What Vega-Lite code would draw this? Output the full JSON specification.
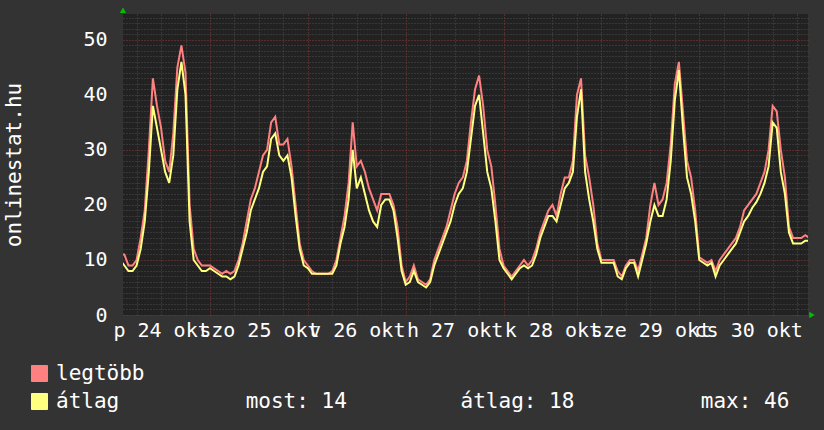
{
  "$schema": "https://vega.github.io/schema/vega-lite/v6.json",
  "width": 685,
  "height": 301,
  "autosize": "none",
  "padding": {"left": 123, "top": 14, "right": 16, "bottom": 115},
  "config": {
    "background": "#333333",
    "view": {"fill": "#222222", "stroke": null},
    "font": "DejaVu Sans Mono"
  },
  "resolve": {"axis": {"x": "independent", "y": "independent"}},
  "layer": [
    {
      "data": {"values": [
        {"t":"2014-10-24T02:00:00Z","legtöbb":11,"átlag":10},
        {"t":"2014-10-24T03:00:00Z","legtöbb":11,"átlag":9},
        {"t":"2014-10-24T04:00:00Z","legtöbb":9,"átlag":8},
        {"t":"2014-10-24T05:00:00Z","legtöbb":9,"átlag":8},
        {"t":"2014-10-24T06:00:00Z","legtöbb":10,"átlag":9},
        {"t":"2014-10-24T07:00:00Z","legtöbb":14,"átlag":12},
        {"t":"2014-10-24T08:00:00Z","legtöbb":19,"átlag":17},
        {"t":"2014-10-24T09:00:00Z","legtöbb":30,"átlag":26},
        {"t":"2014-10-24T10:00:00Z","legtöbb":43,"átlag":38},
        {"t":"2014-10-24T11:00:00Z","legtöbb":38,"átlag":34},
        {"t":"2014-10-24T12:00:00Z","legtöbb":34,"átlag":30},
        {"t":"2014-10-24T13:00:00Z","legtöbb":28,"átlag":26},
        {"t":"2014-10-24T14:00:00Z","legtöbb":26,"átlag":24},
        {"t":"2014-10-24T15:00:00Z","legtöbb":33,"átlag":29},
        {"t":"2014-10-24T16:00:00Z","legtöbb":45,"átlag":41},
        {"t":"2014-10-24T17:00:00Z","legtöbb":49,"átlag":46},
        {"t":"2014-10-24T18:00:00Z","legtöbb":44,"átlag":40},
        {"t":"2014-10-24T19:00:00Z","legtöbb":20,"átlag":17},
        {"t":"2014-10-24T20:00:00Z","legtöbb":12,"átlag":10},
        {"t":"2014-10-24T21:00:00Z","legtöbb":10,"átlag":9},
        {"t":"2014-10-24T22:00:00Z","legtöbb":9,"átlag":8},
        {"t":"2014-10-24T23:00:00Z","legtöbb":9,"átlag":8},
        {"t":"2014-10-25T00:00:00Z","legtöbb":9,"átlag":8.5},
        {"t":"2014-10-25T01:00:00Z","legtöbb":8.5,"átlag":8},
        {"t":"2014-10-25T02:00:00Z","legtöbb":8,"átlag":7.5},
        {"t":"2014-10-25T03:00:00Z","legtöbb":7.5,"átlag":7},
        {"t":"2014-10-25T04:00:00Z","legtöbb":8,"átlag":7},
        {"t":"2014-10-25T05:00:00Z","legtöbb":7.5,"átlag":6.5},
        {"t":"2014-10-25T06:00:00Z","legtöbb":8,"átlag":7},
        {"t":"2014-10-25T07:00:00Z","legtöbb":10,"átlag":9},
        {"t":"2014-10-25T08:00:00Z","legtöbb":13,"átlag":12},
        {"t":"2014-10-25T09:00:00Z","legtöbb":17,"átlag":15},
        {"t":"2014-10-25T10:00:00Z","legtöbb":21,"átlag":19},
        {"t":"2014-10-25T11:00:00Z","legtöbb":23,"átlag":21},
        {"t":"2014-10-25T12:00:00Z","legtöbb":26,"átlag":23},
        {"t":"2014-10-25T13:00:00Z","legtöbb":29,"átlag":26},
        {"t":"2014-10-25T14:00:00Z","legtöbb":30,"átlag":27},
        {"t":"2014-10-25T15:00:00Z","legtöbb":35,"átlag":32},
        {"t":"2014-10-25T16:00:00Z","legtöbb":36,"átlag":33},
        {"t":"2014-10-25T17:00:00Z","legtöbb":31,"átlag":29},
        {"t":"2014-10-25T18:00:00Z","legtöbb":31,"átlag":28},
        {"t":"2014-10-25T19:00:00Z","legtöbb":32,"átlag":29},
        {"t":"2014-10-25T20:00:00Z","legtöbb":27,"átlag":25},
        {"t":"2014-10-25T21:00:00Z","legtöbb":20,"átlag":18},
        {"t":"2014-10-25T22:00:00Z","legtöbb":13,"átlag":12},
        {"t":"2014-10-25T23:00:00Z","legtöbb":10,"átlag":9},
        {"t":"2014-10-26T00:00:00Z","legtöbb":9,"átlag":8.5},
        {"t":"2014-10-26T01:00:00Z","legtöbb":8,"átlag":7.5},
        {"t":"2014-10-26T02:00:00Z","legtöbb":7.5,"átlag":7.5},
        {"t":"2014-10-26T03:00:00Z","legtöbb":7.5,"átlag":7.5},
        {"t":"2014-10-26T04:00:00Z","legtöbb":7.5,"átlag":7.5},
        {"t":"2014-10-26T05:00:00Z","legtöbb":7.5,"átlag":7.5},
        {"t":"2014-10-26T06:00:00Z","legtöbb":8,"átlag":7.5},
        {"t":"2014-10-26T07:00:00Z","legtöbb":10,"átlag":9},
        {"t":"2014-10-26T08:00:00Z","legtöbb":14,"átlag":13},
        {"t":"2014-10-26T09:00:00Z","legtöbb":18,"átlag":16},
        {"t":"2014-10-26T10:00:00Z","legtöbb":24,"átlag":21},
        {"t":"2014-10-26T11:00:00Z","legtöbb":35,"átlag":30},
        {"t":"2014-10-26T12:00:00Z","legtöbb":27,"átlag":23},
        {"t":"2014-10-26T13:00:00Z","legtöbb":28,"átlag":25},
        {"t":"2014-10-26T14:00:00Z","legtöbb":26,"átlag":22},
        {"t":"2014-10-26T15:00:00Z","legtöbb":23,"átlag":19},
        {"t":"2014-10-26T16:00:00Z","legtöbb":21,"átlag":17},
        {"t":"2014-10-26T17:00:00Z","legtöbb":19,"átlag":16},
        {"t":"2014-10-26T18:00:00Z","legtöbb":22,"átlag":20},
        {"t":"2014-10-26T19:00:00Z","legtöbb":22,"átlag":21},
        {"t":"2014-10-26T20:00:00Z","legtöbb":22,"átlag":21},
        {"t":"2014-10-26T21:00:00Z","legtöbb":20,"átlag":19},
        {"t":"2014-10-26T22:00:00Z","legtöbb":16,"átlag":14},
        {"t":"2014-10-26T23:00:00Z","legtöbb":9,"átlag":8},
        {"t":"2014-10-27T00:00:00Z","legtöbb":6,"átlag":5.5},
        {"t":"2014-10-27T01:00:00Z","legtöbb":7,"átlag":6},
        {"t":"2014-10-27T02:00:00Z","legtöbb":9,"átlag":8},
        {"t":"2014-10-27T03:00:00Z","legtöbb":6.5,"átlag":6},
        {"t":"2014-10-27T04:00:00Z","legtöbb":6,"átlag":5.5},
        {"t":"2014-10-27T05:00:00Z","legtöbb":5.5,"átlag":5},
        {"t":"2014-10-27T06:00:00Z","legtöbb":6.5,"átlag":6},
        {"t":"2014-10-27T07:00:00Z","legtöbb":10,"átlag":9},
        {"t":"2014-10-27T08:00:00Z","legtöbb":12,"átlag":11},
        {"t":"2014-10-27T09:00:00Z","legtöbb":14,"átlag":13},
        {"t":"2014-10-27T10:00:00Z","legtöbb":16,"átlag":15},
        {"t":"2014-10-27T11:00:00Z","legtöbb":19,"átlag":17},
        {"t":"2014-10-27T12:00:00Z","legtöbb":22,"átlag":20},
        {"t":"2014-10-27T13:00:00Z","legtöbb":24,"átlag":22},
        {"t":"2014-10-27T14:00:00Z","legtöbb":25,"átlag":23},
        {"t":"2014-10-27T15:00:00Z","legtöbb":28,"átlag":26},
        {"t":"2014-10-27T16:00:00Z","legtöbb":35,"átlag":32},
        {"t":"2014-10-27T17:00:00Z","legtöbb":41,"átlag":38},
        {"t":"2014-10-27T18:00:00Z","legtöbb":43.5,"átlag":40},
        {"t":"2014-10-27T19:00:00Z","legtöbb":38,"átlag":33},
        {"t":"2014-10-27T20:00:00Z","legtöbb":30,"átlag":26},
        {"t":"2014-10-27T21:00:00Z","legtöbb":27,"átlag":23},
        {"t":"2014-10-27T22:00:00Z","legtöbb":20,"átlag":17},
        {"t":"2014-10-27T23:00:00Z","legtöbb":12,"átlag":10},
        {"t":"2014-10-28T00:00:00Z","legtöbb":9,"átlag":8.5},
        {"t":"2014-10-28T01:00:00Z","legtöbb":8,"átlag":7.5},
        {"t":"2014-10-28T02:00:00Z","legtöbb":7,"átlag":6.5},
        {"t":"2014-10-28T03:00:00Z","legtöbb":8,"átlag":7.5},
        {"t":"2014-10-28T04:00:00Z","legtöbb":9,"átlag":8.5},
        {"t":"2014-10-28T05:00:00Z","legtöbb":10,"átlag":9},
        {"t":"2014-10-28T06:00:00Z","legtöbb":9,"átlag":8.5},
        {"t":"2014-10-28T07:00:00Z","legtöbb":10,"átlag":9},
        {"t":"2014-10-28T08:00:00Z","legtöbb":12,"átlag":11},
        {"t":"2014-10-28T09:00:00Z","legtöbb":15,"átlag":14},
        {"t":"2014-10-28T10:00:00Z","legtöbb":17,"átlag":16},
        {"t":"2014-10-28T11:00:00Z","legtöbb":19,"átlag":18},
        {"t":"2014-10-28T12:00:00Z","legtöbb":20,"átlag":18},
        {"t":"2014-10-28T13:00:00Z","legtöbb":18,"átlag":17},
        {"t":"2014-10-28T14:00:00Z","legtöbb":22,"átlag":20},
        {"t":"2014-10-28T15:00:00Z","legtöbb":25,"átlag":23},
        {"t":"2014-10-28T16:00:00Z","legtöbb":25,"átlag":24},
        {"t":"2014-10-28T17:00:00Z","legtöbb":28,"átlag":26},
        {"t":"2014-10-28T18:00:00Z","legtöbb":40,"átlag":36},
        {"t":"2014-10-28T19:00:00Z","legtöbb":43,"átlag":41},
        {"t":"2014-10-28T20:00:00Z","legtöbb":29,"átlag":26},
        {"t":"2014-10-28T21:00:00Z","legtöbb":25,"átlag":21},
        {"t":"2014-10-28T22:00:00Z","legtöbb":20,"átlag":17},
        {"t":"2014-10-28T23:00:00Z","legtöbb":13,"átlag":12},
        {"t":"2014-10-29T00:00:00Z","legtöbb":10,"átlag":9.5},
        {"t":"2014-10-29T01:00:00Z","legtöbb":10,"átlag":9.5},
        {"t":"2014-10-29T02:00:00Z","legtöbb":10,"átlag":9.5},
        {"t":"2014-10-29T03:00:00Z","legtöbb":10,"átlag":9.5},
        {"t":"2014-10-29T04:00:00Z","legtöbb":8,"átlag":7},
        {"t":"2014-10-29T05:00:00Z","legtöbb":7,"átlag":6.5},
        {"t":"2014-10-29T06:00:00Z","legtöbb":9,"átlag":8.5},
        {"t":"2014-10-29T07:00:00Z","legtöbb":10,"átlag":9.5},
        {"t":"2014-10-29T08:00:00Z","legtöbb":10,"átlag":9.5},
        {"t":"2014-10-29T09:00:00Z","legtöbb":8,"átlag":7},
        {"t":"2014-10-29T10:00:00Z","legtöbb":11,"átlag":10},
        {"t":"2014-10-29T11:00:00Z","legtöbb":14,"átlag":13},
        {"t":"2014-10-29T12:00:00Z","legtöbb":20,"átlag":17},
        {"t":"2014-10-29T13:00:00Z","legtöbb":24,"átlag":20},
        {"t":"2014-10-29T14:00:00Z","legtöbb":20,"átlag":18},
        {"t":"2014-10-29T15:00:00Z","legtöbb":21,"átlag":18},
        {"t":"2014-10-29T16:00:00Z","legtöbb":24,"átlag":21},
        {"t":"2014-10-29T17:00:00Z","legtöbb":31,"átlag":28},
        {"t":"2014-10-29T18:00:00Z","legtöbb":42,"átlag":39},
        {"t":"2014-10-29T19:00:00Z","legtöbb":46,"átlag":44.5},
        {"t":"2014-10-29T20:00:00Z","legtöbb":37,"átlag":34},
        {"t":"2014-10-29T21:00:00Z","legtöbb":28,"átlag":25},
        {"t":"2014-10-29T22:00:00Z","legtöbb":25,"átlag":22},
        {"t":"2014-10-29T23:00:00Z","legtöbb":19,"átlag":17},
        {"t":"2014-10-30T00:00:00Z","legtöbb":10.5,"átlag":10},
        {"t":"2014-10-30T01:00:00Z","legtöbb":10,"átlag":9.5},
        {"t":"2014-10-30T02:00:00Z","legtöbb":9.5,"átlag":9},
        {"t":"2014-10-30T03:00:00Z","legtöbb":10,"átlag":9.5},
        {"t":"2014-10-30T04:00:00Z","legtöbb":8,"átlag":7},
        {"t":"2014-10-30T05:00:00Z","legtöbb":10,"átlag":9},
        {"t":"2014-10-30T06:00:00Z","legtöbb":11,"átlag":10},
        {"t":"2014-10-30T07:00:00Z","legtöbb":12,"átlag":11},
        {"t":"2014-10-30T08:00:00Z","legtöbb":13,"átlag":12},
        {"t":"2014-10-30T09:00:00Z","legtöbb":14,"átlag":13},
        {"t":"2014-10-30T10:00:00Z","legtöbb":16,"átlag":15},
        {"t":"2014-10-30T11:00:00Z","legtöbb":19,"átlag":17},
        {"t":"2014-10-30T12:00:00Z","legtöbb":20,"átlag":18},
        {"t":"2014-10-30T13:00:00Z","legtöbb":21,"átlag":19.5},
        {"t":"2014-10-30T14:00:00Z","legtöbb":22,"átlag":20.5},
        {"t":"2014-10-30T15:00:00Z","legtöbb":24,"átlag":22},
        {"t":"2014-10-30T16:00:00Z","legtöbb":26,"átlag":24},
        {"t":"2014-10-30T17:00:00Z","legtöbb":30,"átlag":27},
        {"t":"2014-10-30T18:00:00Z","legtöbb":38,"átlag":35},
        {"t":"2014-10-30T19:00:00Z","legtöbb":37,"átlag":34},
        {"t":"2014-10-30T20:00:00Z","legtöbb":30,"átlag":26},
        {"t":"2014-10-30T21:00:00Z","legtöbb":25,"átlag":22},
        {"t":"2014-10-30T22:00:00Z","legtöbb":16,"átlag":15},
        {"t":"2014-10-30T23:00:00Z","legtöbb":14,"átlag":13},
        {"t":"2014-10-31T00:00:00Z","legtöbb":14,"átlag":13},
        {"t":"2014-10-31T01:00:00Z","legtöbb":14,"átlag":13},
        {"t":"2014-10-31T02:00:00Z","legtöbb":14.5,"átlag":13.5},
        {"t":"2014-10-31T03:00:00Z","legtöbb":14,"átlag":13.5}
      ]},
      "transform": [{"fold": ["legtöbb", "átlag"], "as": ["series", "v"]}],
      "mark": {"type": "line", "strokeWidth": 2, "clip": true},
      "encoding": {
        "x": {
          "field": "t", "type": "temporal",
          "scale": {"type": "utc", "domain": [1414118400000, 1414723200000]},
          "axis": {
            "title": null,
            "orient": "bottom",
            "values": [1414130400000,1414152000000,1414173600000,1414195200000,1414216800000,1414238400000,1414260000000,1414281600000,1414303200000,1414324800000,1414346400000,1414368000000,1414389600000,1414411200000,1414432800000,1414454400000,1414476000000,1414497600000,1414519200000,1414540800000,1414562400000,1414584000000,1414605600000,1414627200000,1414648800000,1414670400000,1414692000000,1414713600000],
            "labelExpr": "utchours(datum.value) == 12 ? (['v','h','k','sze','cs','p','szo'][utcday(datum.value)] + ' ' + utcFormat(datum.value, '%d') + ' okt') : ''",
            "labelOverlap": false,
            "labelBound": false,
            "labelFlush": false,
            "labelFont": "DejaVu Sans Mono",
            "labelFontSize": 20,
            "labelColor": "#ffffff",
            "labelPadding": 5,
            "ticks": false,
            "domain": false,
            "grid": true,
            "gridDash": [1, 2],
            "gridWidth": 1,
            "gridColor": {"condition": {"test": "utchours(datum.value) == 0", "value": "#8a3a3a"}, "value": "#4d4d4d"}
          }
        },
        "y": {
          "field": "v", "type": "quantitative",
          "scale": {"domain": [0, 54.7], "nice": false, "zero": true},
          "axis": {
            "title": "onlinestat.hu",
            "orient": "left",
            "titleFont": "DejaVu Sans Mono",
            "titleFontSize": 21,
            "titleFontWeight": "normal",
            "titleColor": "#ffffff",
            "titleAngle": -90,
            "titleX": -109,
            "titleY": 150.5,
            "titleAlign": "center",
            "titleBaseline": "middle",
            "values": [0,1,2,3,4,5,6,7,8,9,10,11,12,13,14,15,16,17,18,19,20,21,22,23,24,25,26,27,28,29,30,31,32,33,34,35,36,37,38,39,40,41,42,43,44,45,46,47,48,49,50,51,52,53,54],
            "labelExpr": "datum.value % 10 == 0 ? datum.label : ''",
            "labelOverlap": false,
            "labelFont": "DejaVu Sans Mono",
            "labelFontSize": 20,
            "labelColor": "#ffffff",
            "labelPadding": 16,
            "ticks": false,
            "domain": false,
            "grid": true,
            "gridDash": [1, 2],
            "gridWidth": 1,
            "gridColor": {"condition": {"test": "datum.value % 10 == 0 && datum.value > 0", "value": "#8a3a3a"}, "value": "#4d4d4d"}
          }
        },
        "color": {
          "field": "series", "type": "nominal",
          "scale": {"domain": ["legtöbb", "átlag"], "range": ["#ff8080", "#ffff80"]},
          "legend": {
            "title": null,
            "orient": "none",
            "legendX": -94,
            "legendY": 349,
            "direction": "vertical",
            "padding": 0,
            "symbolType": "square",
            "symbolSize": 256,
            "symbolStrokeWidth": 1,
            "labelOffset": 6,
            "rowPadding": 6,
            "labelFont": "DejaVu Sans Mono",
            "labelFontSize": 21,
            "labelColor": "#ffffff",
            "labelLimit": 1000,
            "labelExpr": "datum.label == 'átlag' ? 'átlag\u00a0\u00a0\u00a0\u00a0\u00a0\u00a0\u00a0\u00a0\u00a0\u00a0most:\u00a014\u00a0\u00a0\u00a0\u00a0\u00a0\u00a0\u00a0\u00a0\u00a0átlag:\u00a018\u00a0\u00a0\u00a0\u00a0\u00a0\u00a0\u00a0\u00a0\u00a0\u00a0max:\u00a046' : datum.label",
            "encode": {
              "symbols": {
                "update": {
                  "fill": {"scale": "color", "field": "value"},
                  "fillOpacity": {"value": 1},
                  "stroke": {"value": "#000000"},
                  "strokeWidth": {"value": 1}
                }
              }
            }
          }
        }
      }
    },
    {
      "data": {"values": [{}]},
      "mark": {"type": "point", "shape": "triangle-up", "filled": true, "color": "#00c000", "size": 40, "opacity": 1},
      "encoding": {
        "x": {"datum": 1414118400000, "type": "temporal", "axis": null},
        "y": {"datum": 55.4, "type": "quantitative", "axis": null}
      }
    },
    {
      "data": {"values": [{}]},
      "mark": {"type": "point", "shape": "triangle-right", "filled": true, "color": "#00c000", "size": 40, "opacity": 1},
      "encoding": {
        "x": {"datum": 1414726700000, "type": "temporal", "axis": null},
        "y": {"datum": 0, "type": "quantitative", "axis": null}
      }
    }
  ]
}
